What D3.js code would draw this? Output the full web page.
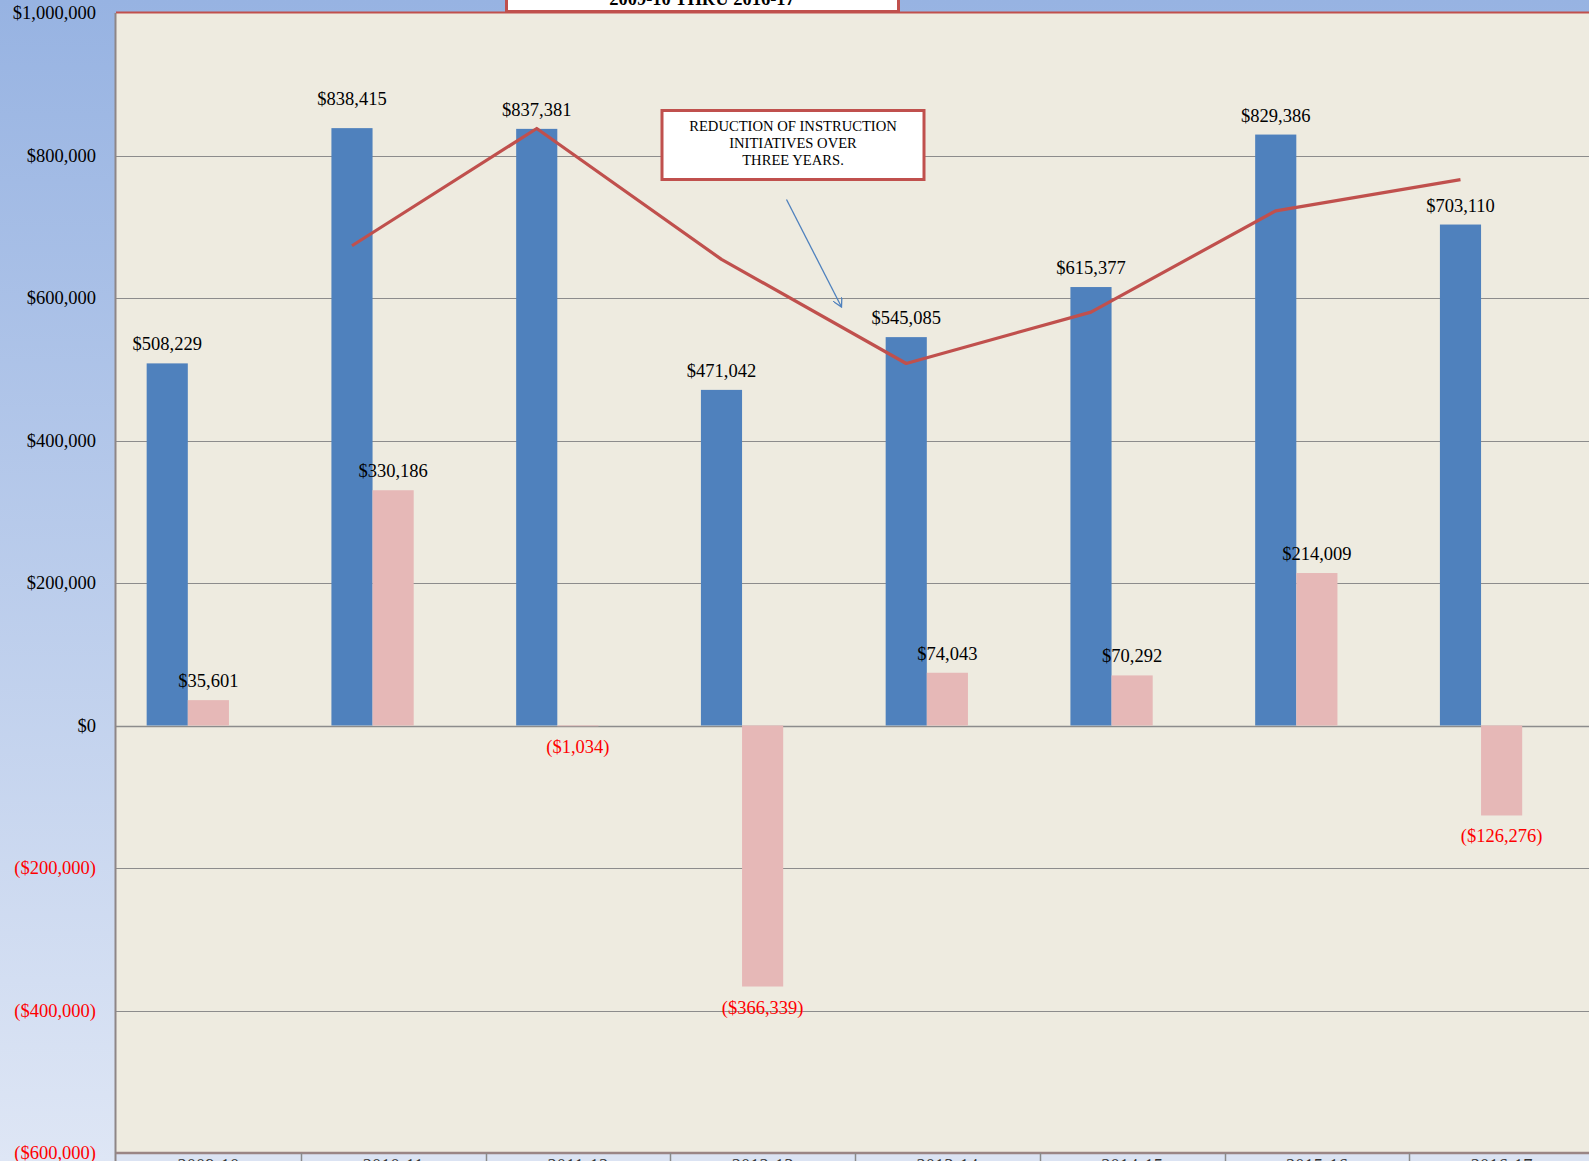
<!DOCTYPE html>
<html>
<head>
<meta charset="utf-8">
<script src="https://cdn.jsdelivr.net/npm/d3@7"></script>
<style>
  html, body { margin: 0; padding: 0; overflow: hidden; }
  svg { display: block; }
  text { font-family: "Liberation Serif", "Times New Roman", serif; }
</style>
</head>
<body>
<svg id="chart" width="1589" height="1161"></svg>
<script>
// Fiscal years shown on the category axis
const years = ["2009-10", "2010-11", "2011-12", "2012-13", "2013-14", "2014-15", "2015-16", "2016-17"];
// Instruction initiatives per year
const initiatives = [508229, 838415, 837381, 471042, 545085, 615377, 829386, 703110];
// Year-over-year change
const change = [35601, 330186, -1034, -366339, 74043, 70292, 214009, -126276];
// Two-period moving trend of initiatives (starts at the second year)
const trendYears = ["2010-11", "2011-12", "2012-13", "2013-14", "2014-15", "2015-16", "2016-17"];
const trend = [673322, 837898, 654212, 508064, 580231, 722382, 766248];
// Value axis ticks
const yTicks = [-600000, -400000, -200000, 0, 200000, 400000, 600000, 800000, 1000000];
const titleText = "2009-10 THRU 2016-17";
const noteLines = ["REDUCTION OF INSTRUCTION", "INITIATIVES OVER", "THREE YEARS."];

const svg = d3.select("#chart");
const W = 1589, H = 1161;
const plot = { left: 116, right: 1594, top: 13, bottom: 1153 };

// Background gradient
const defs = svg.append("defs");
const grad = defs.append("linearGradient").attr("id", "bg").attr("x1", 0).attr("y1", 0).attr("x2", 0).attr("y2", 1);
grad.append("stop").attr("offset", "0%").attr("stop-color", "#97b3e2");
grad.append("stop").attr("offset", "100%").attr("stop-color", "#dee6f5");
svg.append("rect").attr("width", W).attr("height", H).attr("fill", "url(#bg)");

defs.append("marker").attr("id", "arrowHead")
  .attr("viewBox", "0 0 10 10").attr("refX", 9).attr("refY", 5)
  .attr("markerWidth", 10).attr("markerHeight", 10).attr("markerUnits", "userSpaceOnUse")
  .attr("orient", "auto")
  .append("path").attr("d", "M0,0 L9,5 L0,10").attr("fill", "none")
  .attr("stroke", "#4f81bd").attr("stroke-width", 1.3);

const x0 = d3.scaleBand().domain(years).range([plot.left, plot.right]).padding(0);
const bw = x0.bandwidth();
const gap = bw * 0.166;
// three slots per year; the third slot holds the trend series and stays empty
const x1 = d3.scaleBand().domain(["initiatives", "change", "trend"]).range([gap, bw - gap]).padding(0);
const y = d3.scaleLinear().domain([-600000, 1000000]).range([plot.bottom, plot.top]);

// Category axis strip
svg.append("rect").attr("x", plot.left).attr("y", plot.bottom).attr("width", plot.right - plot.left)
  .attr("height", H - plot.bottom).attr("fill", "#dbe3f3");

// Plot area
svg.append("rect").attr("x", plot.left).attr("y", plot.top)
  .attr("width", plot.right - plot.left).attr("height", plot.bottom - plot.top)
  .attr("fill", "#eeebe0");

// Gridlines
svg.append("g").selectAll("line").data(yTicks.filter(d => d !== -600000 && d !== 1000000)).join("line")
  .attr("x1", plot.left).attr("x2", plot.right)
  .attr("y1", d => Math.round(y(d)) + 0.5).attr("y2", d => Math.round(y(d)) + 0.5)
  .attr("stroke", "#8c8c8c").attr("stroke-width", d => d === 0 ? 1.5 : 1);

// Value axis labels
const fmt = v => v < 0 ? "($" + d3.format(",")(-v) + ")" : "$" + d3.format(",")(v);
const yAxis = d3.axisLeft(y).tickValues(yTicks).tickSize(0).tickPadding(20).tickFormat(fmt);
const yg = svg.append("g").attr("transform", `translate(${plot.left},0)`).call(yAxis);
yg.select(".domain").remove();
yg.selectAll("text").attr("font-size", 18.5)
  .attr("font-family", "'Liberation Serif', 'Times New Roman', serif")
  .attr("fill", d => d < 0 ? "#ff0000" : "#000");

// Bars
const groups = svg.append("g").selectAll("g").data(years).join("g")
  .attr("transform", d => `translate(${x0(d)},0)`);

groups.append("rect")
  .attr("x", x1("initiatives")).attr("width", x1.bandwidth())
  .attr("y", (d, i) => y(initiatives[i]))
  .attr("height", (d, i) => y(0) - y(initiatives[i]))
  .attr("fill", "#4f81bd");

groups.append("rect")
  .attr("x", x1("change")).attr("width", x1.bandwidth())
  .attr("y", (d, i) => y(Math.max(0, change[i])))
  .attr("height", (d, i) => Math.abs(y(change[i]) - y(0)))
  .attr("fill", "#e6b8b7");

// Value labels; the 2010-11 label sits higher to clear its neighbour
const lift = d => d === "2010-11" ? 10 : 0;
groups.append("text")
  .attr("x", x1("initiatives") + x1.bandwidth() / 2)
  .attr("y", (d, i) => y(initiatives[i]) - 13 - lift(d))
  .attr("text-anchor", "middle").attr("font-size", 18.5)
  .text((d, i) => fmt(initiatives[i]));

groups.append("text")
  .attr("x", x1("change") + x1.bandwidth() / 2)
  .attr("y", (d, i) => change[i] >= 0 ? y(change[i]) - 13 : y(change[i]) + 27)
  .attr("text-anchor", "middle").attr("font-size", 18.5)
  .attr("fill", (d, i) => change[i] < 0 ? "#ff0000" : "#000")
  .text((d, i) => fmt(change[i]));

// Trend line through the initiative bar centres
const line = d3.line()
  .x((d, i) => x0(trendYears[i]) + x1("initiatives") + x1.bandwidth() / 2)
  .y(d => y(d));
svg.append("path").datum(trend).attr("d", line)
  .attr("fill", "none").attr("stroke", "#c0504d").attr("stroke-width", 3.2)
  .attr("stroke-linejoin", "round");

// Plot borders
svg.append("line").attr("x1", plot.left).attr("x2", plot.right).attr("y1", plot.top - 0.5).attr("y2", plot.top - 0.5)
  .attr("stroke", "#c0504d").attr("stroke-width", 2);
svg.append("line").attr("x1", plot.left - 0.5).attr("x2", plot.left - 0.5).attr("y1", plot.top).attr("y2", H)
  .attr("stroke", "#8e8686").attr("stroke-width", 2);
svg.append("line").attr("x1", plot.left).attr("x2", plot.right).attr("y1", plot.bottom).attr("y2", plot.bottom)
  .attr("stroke", "#9a8585").attr("stroke-width", 2.5);

// Category axis separators and labels
const xAxis = d3.axisBottom(x0).tickSize(0).tickPadding(0);
const xg = svg.append("g").attr("transform", `translate(0,${plot.bottom})`).call(xAxis);
xg.select(".domain").remove();
xg.selectAll("text").attr("font-size", 18.5).attr("fill", "#333")
  .attr("font-family", "'Liberation Serif', 'Times New Roman', serif")
  .attr("dy", null).attr("y", 19);
svg.append("g").selectAll("line").data(years.slice(1)).join("line")
  .attr("x1", d => Math.round(x0(d)) + 0.5).attr("x2", d => Math.round(x0(d)) + 0.5)
  .attr("y1", plot.bottom).attr("y2", H)
  .attr("stroke", "#8a8a8a").attr("stroke-width", 1.5);

// Title box
svg.append("rect").attr("x", 506.5).attr("y", -30).attr("width", 392).attr("height", 41.5)
  .attr("fill", "#fff").attr("stroke", "#c0504d").attr("stroke-width", 3);
svg.append("text").attr("x", 702).attr("y", 5).attr("text-anchor", "middle")
  .attr("font-size", 18.5).attr("font-weight", "bold").text(titleText);

// Annotation box and pointer
svg.append("rect").attr("x", 662).attr("y", 110.5).attr("width", 262).attr("height", 69)
  .attr("fill", "#fff").attr("stroke", "#c0504d").attr("stroke-width", 3);
svg.append("g").selectAll("text").data(noteLines).join("text")
  .attr("x", 793).attr("y", (d, i) => 131 + i * 16.8)
  .attr("text-anchor", "middle").attr("font-size", 14.6).text(d => d);
svg.append("line").attr("x1", 786.5).attr("y1", 199.5).attr("x2", 841.5).attr("y2", 307)
  .attr("stroke", "#4f81bd").attr("stroke-width", 1.3).attr("marker-end", "url(#arrowHead)");
</script>
</body>
</html>
